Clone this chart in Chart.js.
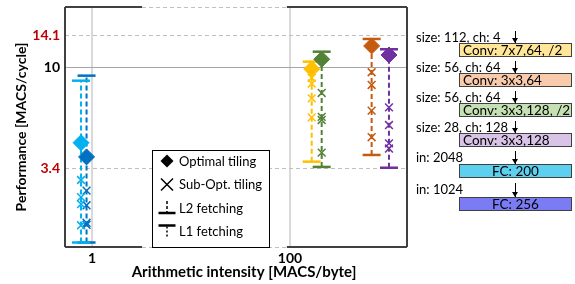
<!DOCTYPE html>
<html>
<head>
<meta charset="utf-8">
<script src="https://cdn.jsdelivr.net/npm/chart.js@4/dist/chart.umd.min.js"></script>
<style>
  html, body { margin: 0; padding: 0; background: #fff; }
  #wrap { position: relative; width: 575px; height: 284px; font-family: Lato, "Open Sans", sans-serif; }
  #chart { position: absolute; left: 0; top: 0; }
  .lbl { position: absolute; left: 416px; font-size: 13px; line-height: 14px; color: #000; white-space: nowrap; }
  .box { position: absolute; left: 459px; width: 111px; height: 12px; border: 1px solid #404040;
         font-size: 13.5px; line-height: 12px; color: #000; white-space: nowrap; box-sizing: content-box; }
  .arr { position: absolute; width: 1px; background: #000; left: 515px; }
  .arr:after { content: ''; position: absolute; left: -3px; bottom: 0; border-left: 3.5px solid transparent;
               border-right: 3.5px solid transparent; border-top: 5px solid #000; }
</style>
</head>
<body>
<div id="wrap">
  <canvas id="chart" width="575" height="284"></canvas>
</div>
<script>
// layers of the network, in order (matching the diagram on the right)
const layers = ['Conv: 7x7,64, /2', 'Conv: 3x3,64', 'Conv: 3x3,128, /2', 'Conv: 3x3,128', 'FC: 200', 'FC: 256'];
const layerInputs = ['size: 112, ch: 4', 'size: 56, ch: 64', 'size: 56, ch: 64', 'size: 28, ch: 128', 'in: 2048', 'in: 1024'];

// arithmetic intensity [MACS/byte] per layer
const intensity = [165.7, 668, 209, 1000, 0.774, 0.88];
// performance [MACS/cycle]
const optimalPerf = [9.83, 12.58, 10.91, 11.42, 4.46, 3.83];
const subOptPerf = [
  [8.93, 8.41, 7.17, 5.85],
  [9.49, 8.28, 6.29, 4.73],
  [7.60, 5.88, 5.69, 4.01],
  [6.51, 5.39, 4.43, 4.19],
  [2.99, 2.49, 2.31, 1.84],
  [2.67, 2.28, 1.89, 1.85]
];
const l1Perf = [10.63, 13.56, 11.83, 12.14, 8.67, 9.15];
const l2Perf = [3.64, 3.91, 3.44, 3.41, 1.53, 1.53];

const xTicks = [1, 100];
const yTicks = [3.4, 10, 14.1];
const xRange = [0.533, 1521];
const yRange = [1.458, 19.1];
const axisBreak = [3.2, 93];   // x span where the frame is drawn dashed

const seriesColors = ['#ffc000', '#c55a11', '#548235', '#7030a0', '#00b0f0', '#0070c0'];
const boxColors = ['#ffe699', '#f8cbad', '#c5e0b4', '#d9c3e6', '#5dd0f0', '#7b7bf3'];

const FONT = 'Lato, "Open Sans", sans-serif';

// ---- diagram on the right (plain html) ----
const rowLabelY = [37, 67, 97, 127, 157, 189];
const rowBoxTop = [43, 73, 103, 133, 164, 197];
const wrap = document.getElementById('wrap');
layers.forEach((name, i) => {
  const lbl = document.createElement('div');
  lbl.className = 'lbl';
  lbl.style.top = (rowLabelY[i] - 7) + 'px';
  lbl.textContent = layerInputs[i];
  wrap.appendChild(lbl);

  const arr = document.createElement('div');
  arr.className = 'arr';
  arr.style.top = (rowLabelY[i] - 6) + 'px';
  arr.style.height = (rowBoxTop[i] - rowLabelY[i] + 6) + 'px';
  wrap.appendChild(arr);

  const box = document.createElement('div');
  box.className = 'box';
  box.style.top = rowBoxTop[i] + 'px';
  box.style.background = boxColors[i];
  box.textContent = name;
  if (name.startsWith('FC')) box.style.textAlign = 'center';
  else box.style.paddingLeft = '3px', box.style.width = '108px';
  wrap.appendChild(box);
});

// ---- datasets ----
const datasets = [];
layers.forEach((name, i) => {
  const c = seriesColors[i];
  const x = intensity[i];
  datasets.push({
    type: 'line', label: name + ' range',
    data: [{ x: x, y: l2Perf[i] }, { x: x, y: l1Perf[i] }],
    borderColor: c, borderWidth: 2, borderDash: [5, 3],
    pointStyle: 'line', pointRadius: 9, pointBorderWidth: 2.5, pointBorderColor: c,
    order: 3
  });
  datasets.push({
    type: 'scatter', label: name + ' sub-opt',
    data: subOptPerf[i].map(v => ({ x: x, y: v })),
    pointStyle: 'crossRot', pointRadius: 5.5, pointBorderWidth: 1.5, borderColor: c,
    order: 2
  });
  datasets.push({
    type: 'scatter', label: name + ' optimal',
    data: [{ x: x, y: optimalPerf[i] }],
    pointStyle: 'rectRot', pointRadius: 8, backgroundColor: c, borderColor: c, pointBorderWidth: 1,
    order: 1
  });
});

// gridlines, frame, legend and x title
const framePlugin = {
  id: 'frame',
  beforeDatasetsDraw(chart) {
    const { ctx, chartArea: a, scales: { x, y } } = chart;
    ctx.save();
    // vertical grid
    ctx.strokeStyle = '#d9d9d9';
    ctx.lineWidth = 2;
    xTicks.forEach(v => {
      const px = Math.round(x.getPixelForValue(v));
      ctx.beginPath(); ctx.moveTo(px, a.top); ctx.lineTo(px, a.bottom); ctx.stroke();
    });
    // horizontal grid
    yTicks.forEach(v => {
      const py = Math.round(y.getPixelForValue(v)) + 0.5;
      ctx.lineWidth = 1;
      if (v === 10) { ctx.strokeStyle = '#a6a6a6'; ctx.setLineDash([]); }
      else { ctx.strokeStyle = '#bfbfbf'; ctx.setLineDash([4, 3]); }
      ctx.beginPath(); ctx.moveTo(a.left, py); ctx.lineTo(a.right, py); ctx.stroke();
    });
    ctx.setLineDash([]);
    // frame
    const b0 = x.getPixelForValue(axisBreak[0]);
    const b1 = x.getPixelForValue(axisBreak[1]);
    ctx.strokeStyle = '#404040';
    ctx.lineWidth = 2;
    ctx.beginPath();
    ctx.moveTo(a.left, a.top); ctx.lineTo(a.left, a.bottom);
    ctx.moveTo(a.right, a.top); ctx.lineTo(a.right, a.bottom);
    [a.top, a.bottom].forEach(py => {
      ctx.moveTo(a.left, py); ctx.lineTo(b0, py);
      ctx.moveTo(b1, py); ctx.lineTo(a.right, py);
    });
    ctx.stroke();
    ctx.strokeStyle = '#bfbfbf';
    ctx.lineWidth = 1;
    ctx.setLineDash([4, 3]);
    ctx.beginPath();
    [a.top, a.bottom].forEach(py => { ctx.moveTo(b0, py + 0.5); ctx.lineTo(b1, py + 0.5); });
    ctx.stroke();
    ctx.restore();
  },
  afterDatasetsDraw(chart) {
    const { ctx, chartArea: a } = chart;
    const lx = a.left + 87, ly = a.top + 143, lw = 117, lh = a.bottom - ly;
    ctx.save();
    ctx.fillStyle = '#fff';
    ctx.fillRect(lx, ly, lw, lh);
    ctx.strokeStyle = '#000';
    ctx.lineWidth = 1;
    ctx.strokeRect(lx + 0.5, ly + 0.5, lw, lh);
    const ix = lx + 15, tx = lx + 27;
    const rows = [ly + 11, ly + 34.5, ly + 58, ly + 81.5];
    ctx.fillStyle = '#000';
    ctx.font = '13px ' + FONT;
    ctx.textBaseline = 'middle';
    ['Optimal tiling', 'Sub-Opt. tiling', 'L2 fetching', 'L1 fetching'].forEach((t, k) => ctx.fillText(t, tx, rows[k] + 0.5));
    // diamond
    let cy = rows[0];
    ctx.beginPath();
    ctx.moveTo(ix, cy - 6.5); ctx.lineTo(ix + 6.5, cy); ctx.lineTo(ix, cy + 6.5); ctx.lineTo(ix - 6.5, cy);
    ctx.closePath(); ctx.fill();
    // cross
    cy = rows[1];
    ctx.lineWidth = 1.5;
    ctx.beginPath();
    ctx.moveTo(ix - 6, cy - 6); ctx.lineTo(ix + 6, cy + 6);
    ctx.moveTo(ix + 6, cy - 6); ctx.lineTo(ix - 6, cy + 6);
    ctx.stroke();
    // L2: dashed stem above, bar at bottom
    cy = rows[2];
    ctx.lineWidth = 1.5;
    ctx.setLineDash([3, 2]);
    ctx.beginPath(); ctx.moveTo(ix, cy - 7); ctx.lineTo(ix, cy + 4); ctx.stroke();
    ctx.setLineDash([]);
    ctx.lineWidth = 2.5;
    ctx.beginPath(); ctx.moveTo(ix - 8.5, cy + 5); ctx.lineTo(ix + 8.5, cy + 5); ctx.stroke();
    // L1: bar at top, dotted stem below
    cy = rows[3];
    ctx.beginPath(); ctx.moveTo(ix - 8.5, cy - 6); ctx.lineTo(ix + 8.5, cy - 6); ctx.stroke();
    ctx.lineWidth = 1.5;
    ctx.setLineDash([2, 2]);
    ctx.beginPath(); ctx.moveTo(ix, cy - 5); ctx.lineTo(ix, cy + 7); ctx.stroke();
    // x axis title
    ctx.setLineDash([]);
    ctx.font = 'bold 15px ' + FONT;
    ctx.textAlign = 'center';
    ctx.fillText('Arithmetic intensity [MACS/byte]', (a.left + a.right) / 2 + 8, a.bottom + 25);
    ctx.restore();
  }
};

new Chart(document.getElementById('chart'), {
  data: { datasets: datasets },
  options: {
    responsive: false,
    animation: false,
    layout: { autoPadding: false, padding: { left: 0, top: 7, right: 168, bottom: 0 } },
    plugins: { legend: { display: false }, tooltip: { enabled: false } },
    scales: {
      x: {
        type: 'logarithmic', position: 'bottom',
        min: xRange[0], max: xRange[1],
        grid: { display: false, drawTicks: false },
        border: { display: false },
        afterBuildTicks: s => { s.ticks = xTicks.map(v => ({ value: v })); },
        afterFit: s => { s.height = 37; s.paddingLeft = 0; s.paddingRight = 0; },
        ticks: { color: '#000', padding: 3, font: { family: FONT, size: 14, weight: 'bold' }, callback: v => String(v), maxRotation: 0, autoSkip: false },
        title: { display: false }
      },
      y: {
        type: 'logarithmic', position: 'left',
        min: yRange[0], max: yRange[1],
        grid: { display: false, drawTicks: false },
        border: { display: false },
        afterBuildTicks: s => { s.ticks = yTicks.map(v => ({ value: v })); },
        afterFit: s => { s.width = 65; s.paddingTop = 0; s.paddingBottom = 0; },
        ticks: { padding: 5, font: { family: FONT, size: 14, weight: 'bold' }, callback: v => String(v), autoSkip: false,
                 color: c => (c.tick && c.tick.value === 10) ? '#000' : '#c00000' },
        title: { display: true, text: 'Performance [MACS/cycle]', color: '#000',
                 font: { family: FONT, size: 14, weight: 'bold' }, padding: { top: 13, bottom: 0 } }
      }
    }
  },
  plugins: [framePlugin]
});
</script>
</body>
</html>
